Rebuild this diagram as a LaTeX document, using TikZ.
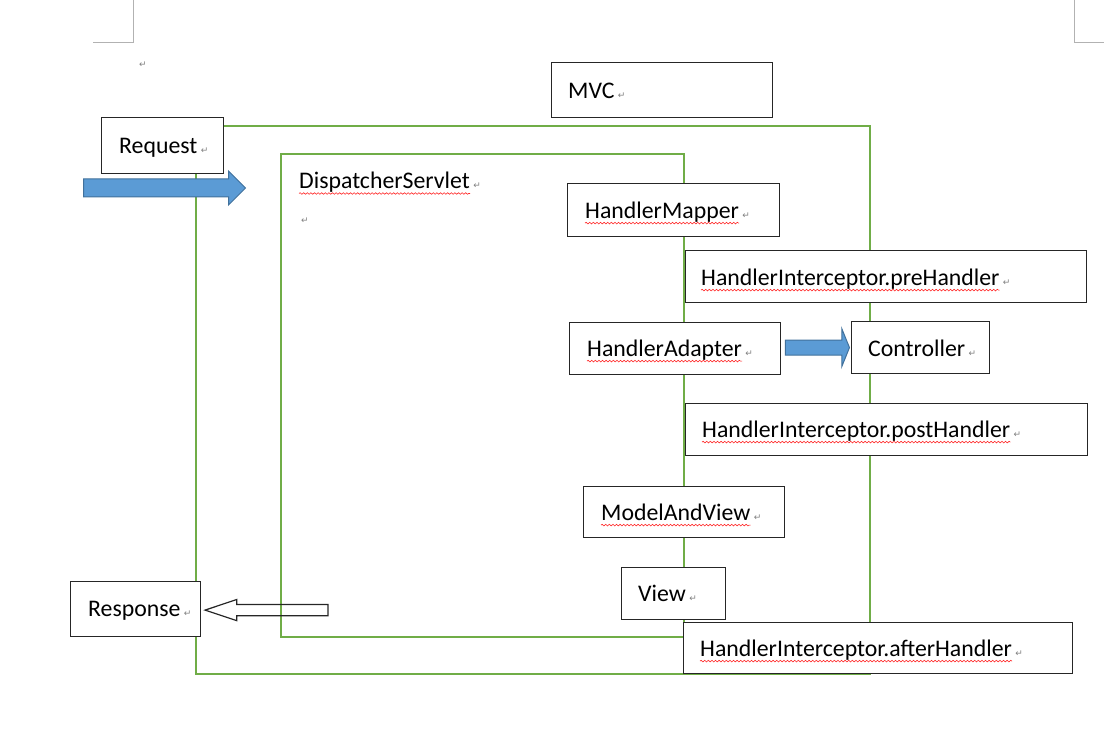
\documentclass[tikz,border=0pt]{standalone}
\usepackage{fontspec}
\setmainfont{Carlito}
\newfontfamily\markfont{DejaVu Sans}
\usetikzlibrary{shapes.arrows,decorations.pathmorphing}
\definecolor{mvcgreen}{HTML}{70AD47}
\definecolor{arrowblue}{HTML}{5B9BD5}
\definecolor{arrowedge}{HTML}{41719C}
\tikzset{
  box/.style={draw=black!85, fill=white, line width=1.2pt, anchor=north west, inner sep=0pt},
  frame/.style={draw=mvcgreen, line width=1.6pt},
  lbl/.style={inner sep=0pt, anchor=base west, font=\fontsize{23.8}{28}\selectfont},
  para/.style={inner sep=0pt, anchor=base west, text=black!50, font=\markfont\fontsize{9}{10}\selectfont},
  spell/.style={draw=red!85, line width=0.6pt, decorate, decoration={snake, amplitude=0.8pt, segment length=3.6pt}},
  bluearrow/.style={single arrow, draw=arrowedge, fill=arrowblue, line width=1pt, inner xsep=0pt},
  cornermark/.style={draw=black!30, line width=1pt}
}
\begin{document}
\begin{tikzpicture}[x=1pt, y=-1pt]
\useasboundingbox (0,0) rectangle (1104,735);
% page corners
\draw[cornermark] (93,43) -- (133,43) -- (133,0);
\draw[cornermark] (1074,0) -- (1074,43) -- (1104,43);
\node[para] (topmark) at (139,68) {↵};

% green frames
\draw[frame] (196,126) rectangle (870,674);
\draw[frame] (281,154) rectangle (684,637);

% boxes
\node[box, minimum width=221pt, minimum height=55pt] (mvc) at (551,62) {};
\node[box, minimum width=122pt, minimum height=56pt] (req) at (101,117) {};
\node[box, minimum width=212pt, minimum height=53pt] (mapper) at (567,183) {};
\node[box, minimum width=401pt, minimum height=52pt] (pre) at (685,250) {};
\node[box, minimum width=211pt, minimum height=52pt] (adapter) at (569,322) {};
\node[box, minimum width=138pt, minimum height=52pt] (ctrl) at (851,321) {};
\node[box, minimum width=402pt, minimum height=52pt] (post) at (685,403) {};
\node[box, minimum width=201pt, minimum height=51pt] (mav) at (583,486) {};
\node[box, minimum width=104pt, minimum height=52pt] (view) at (621,567) {};
\node[box, minimum width=389pt, minimum height=51pt] (after) at (683,622) {};
\node[box, minimum width=130pt, minimum height=55pt] (resp) at (70,581) {};

% labels
\node[lbl] (mvcL) at ([shift={(17pt,-8pt)}]mvc.west) {MVC};
\node[lbl] (reqL) at ([shift={(18pt,-8pt)}]req.west) {Request};
\node[lbl] (dispL) at (299,189) {DispatcherServlet};
\node[para] (dispmark) at (301,224) {↵};
\node[lbl] (mapperL) at ([shift={(18pt,-8.5pt)}]mapper.west) {HandlerMapper};
\node[lbl] (preL) at ([shift={(16pt,-9pt)}]pre.west) {HandlerInterceptor.preHandler};
\node[lbl] (adapterL) at ([shift={(18pt,-8pt)}]adapter.west) {HandlerAdapter};
\node[lbl] (ctrlL) at ([shift={(17pt,-9pt)}]ctrl.west) {Controller};
\node[lbl] (postL) at ([shift={(17pt,-8pt)}]post.west) {HandlerInterceptor.postHandler};
\node[lbl] (mavL) at ([shift={(18pt,-8.5pt)}]mav.west) {ModelAndView};
\node[lbl] (viewL) at ([shift={(17pt,-8pt)}]view.west) {View};
\node[lbl] (afterL) at ([shift={(17pt,-8.5pt)}]after.west) {HandlerInterceptor.afterHandler};
\node[lbl] (respL) at ([shift={(18pt,-7pt)}]resp.west) {Response};

\foreach \n in {mvcL,reqL,dispL,mapperL,preL,adapterL,ctrlL,postL,mavL,viewL,afterL,respL}
  \node[para] at ([xshift=3pt]\n.base east) {↵};
\foreach \n in {dispL,mapperL,preL,adapterL,postL,mavL,afterL}
  \draw[spell] ([yshift=-4.5pt]\n.base west) -- ([yshift=-4.5pt]\n.base east);

% arrows
\node[bluearrow, anchor=tail, inner ysep=8.5pt, minimum height=162pt, single arrow head extend=8pt] (reqArrow) at (83,188) {};
\node[bluearrow, anchor=tip, inner ysep=7pt, minimum height=64pt, single arrow head extend=11.5pt, single arrow tip angle=136] (callArrow) at ([xshift=-1pt]ctrl.west) {};
\node[single arrow, anchor=tip, draw=black!85, line width=1.2pt, inner xsep=0pt, inner ysep=5pt, shape border rotate=180, minimum height=123pt, single arrow head extend=5pt, single arrow tip angle=37] (respArrow) at ([xshift=2pt,yshift=-1pt]resp.east) {};
\end{tikzpicture}
\end{document}
